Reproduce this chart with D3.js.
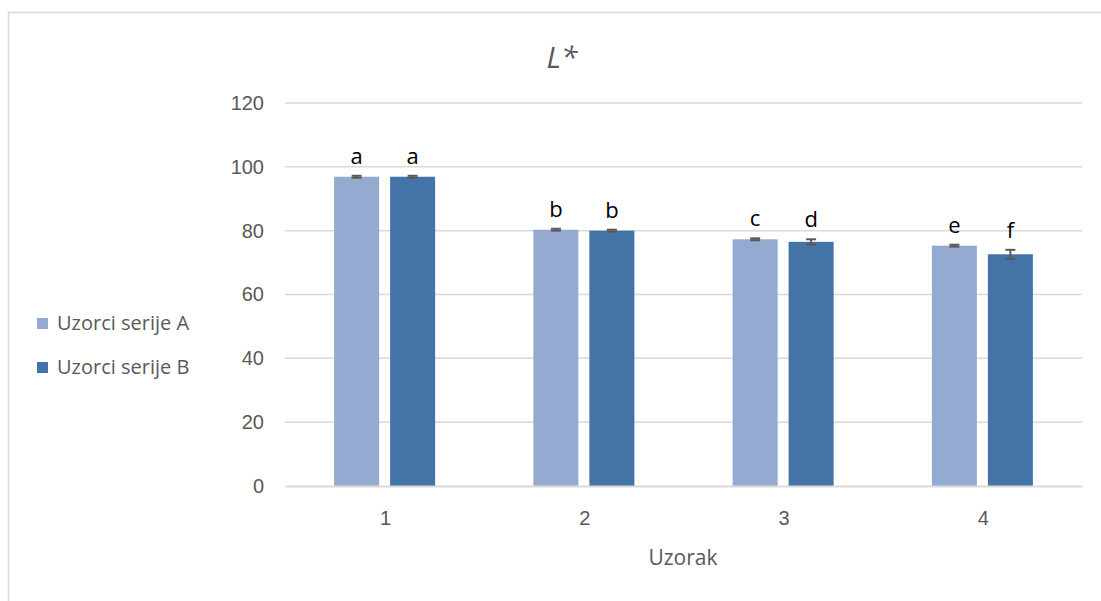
<!DOCTYPE html>
<html><head><meta charset="utf-8">
<script src="https://cdn.jsdelivr.net/npm/d3@7"></script>
<style>body{margin:0;background:#fff}svg{display:block;font-family:"Open Sans","Noto Sans",sans-serif}</style>
</head><body><svg id="c" width="1101" height="601"></svg>
<script>
const categories = ["1","2","3","4"];
const seriesNames = ["Uzorci serije A","Uzorci serije B"];
const valuesA = [96.9, 80.3, 77.3, 75.3];
const valuesB = [96.9, 80.0, 76.5, 72.6];
const errorsA = [0.3, 0.3, 0.3, 0.3];
const errorsB = [0.3, 0.3, 0.8, 1.4];
const lettersA = ["a","b","c","e"];
const lettersB = ["a","b","d","f"];
const yTicks = [0,20,40,60,80,100,120];
const colors = ["#95AAD0","#4473A7"];

const svg = d3.select("#c");
svg.append("rect").attr("x",8.5).attr("y",12.5).attr("width",1120).attr("height",620)
  .attr("fill","none").attr("stroke","#d9d9d9").attr("stroke-width",1.5);

const L=285,R=1082,T=103,B=486;
const x = d3.scaleBand().domain(categories).range([L,R]).paddingInner(0).paddingOuter(0);
const y = d3.scaleLinear().domain([0,120]).range([B,T]);
const xs = d3.scaleBand().domain([0,1]).range([0,x.bandwidth()]).paddingInner(0.196).paddingOuter(0.877);

// gridlines
svg.append("g").selectAll("line").data(yTicks.filter(d=>d>0)).join("line")
  .attr("x1",L).attr("x2",R).attr("y1",d=>y(d)).attr("y2",d=>y(d))
  .attr("stroke","#d9d9d9").attr("stroke-width",1.5);

const yAxis = d3.axisLeft(y).tickValues(yTicks).tickSize(0).tickPadding(21);
const gy = svg.append("g").attr("transform",`translate(${L},0)`).call(yAxis);
gy.select(".domain").remove();
gy.selectAll("text").attr("fill","#595959").style("font-size","20px").attr("font-family",null);

const data = categories.map((c,i)=>[
  {c, s:0, v:valuesA[i], e:errorsA[i], l:lettersA[i]},
  {c, s:1, v:valuesB[i], e:errorsB[i], l:lettersB[i]}
]).flat();

svg.append("g").selectAll("rect").data(data).join("rect")
  .attr("x",d=>x(d.c)+xs(d.s)).attr("width",xs.bandwidth())
  .attr("y",d=>y(d.v)).attr("height",d=>y(0)-y(d.v))
  .attr("fill",d=>colors[d.s]);

// x axis line
const xAxis = d3.axisBottom(x).tickSize(0).tickPadding(25);
const gx = svg.append("g").attr("transform",`translate(0,${B})`).call(xAxis);
gx.select(".domain").attr("stroke","#d9d9d9").attr("stroke-width",2);
gx.selectAll("text").attr("fill","#595959").style("font-size","20px").attr("font-family",null).attr("dx",1);

// error bars
const eg = svg.append("g").attr("stroke","#595959").attr("stroke-width",2);
data.forEach(d=>{
  const cx = x(d.c)+xs(d.s)+xs.bandwidth()/2;
  eg.append("line").attr("x1",cx).attr("x2",cx).attr("y1",y(d.v+d.e)).attr("y2",y(d.v-d.e));
  eg.append("line").attr("x1",cx-5).attr("x2",cx+5).attr("y1",y(d.v+d.e)).attr("y2",y(d.v+d.e));
  eg.append("line").attr("x1",cx-5).attr("x2",cx+5).attr("y1",y(d.v-d.e)).attr("y2",y(d.v-d.e));
});

// letters
svg.append("g").selectAll("text").data(data).join("text")
  .attr("x",d=>x(d.c)+xs(d.s)+xs.bandwidth()/2)
  .attr("y",d=>y(d.v+d.e)-12)
  .attr("text-anchor","middle").attr("fill","#000").style("font-size","22px")
  .text(d=>d.l);

// title
svg.append("text").attr("x",562).attr("y",68).attr("text-anchor","middle")
  .attr("fill","#595959").style("font-size","30px").style("font-style","italic").text("L*");

// x title
svg.append("text").attr("x",683).attr("y",565).attr("text-anchor","middle")
  .attr("fill","#595959").style("font-size","21px").text("Uzorak");

// legend
const lg = svg.append("g");
seriesNames.forEach((n,i)=>{
  const yy = 318 + i*44;
  lg.append("rect").attr("x",37).attr("y",yy).attr("width",11).attr("height",11).attr("fill",colors[i]);
  lg.append("text").attr("x",57).attr("y",yy+12).attr("fill","#595959").style("font-size","20px").text(n);
});
</script></body></html>
